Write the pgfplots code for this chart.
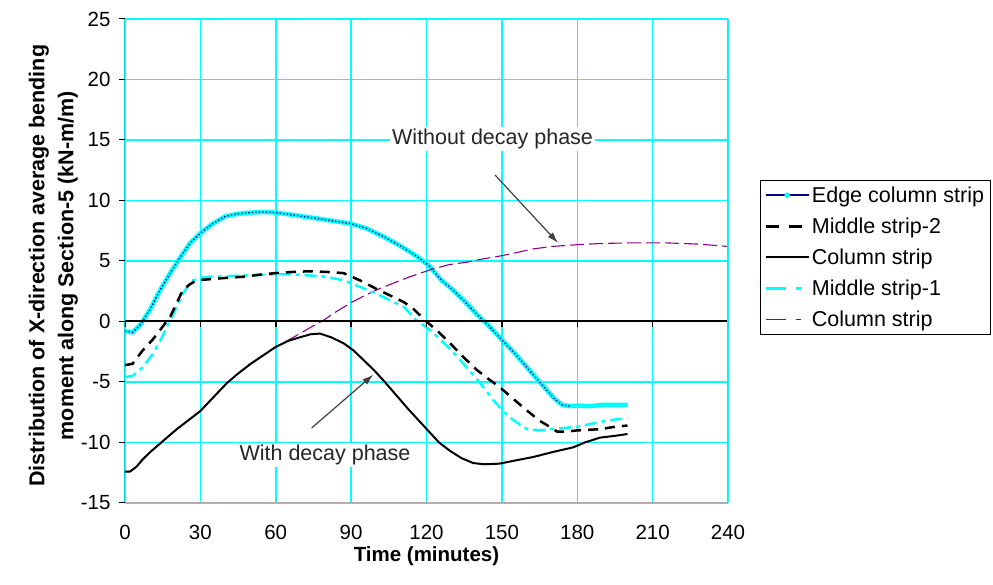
\documentclass[border=0pt]{standalone}
\usepackage{pgfplots}
\pgfplotsset{compat=1.18}
\usepackage{fontspec}
\setmainfont{Liberation Sans}
\usetikzlibrary{arrows.meta}
\definecolor{xcyan}{RGB}{0,255,255}
\definecolor{xnavy}{RGB}{0,0,128}
\definecolor{xpurple}{RGB}{140,0,140}
\definecolor{xgray}{RGB}{170,170,170}
\begin{document}
\begin{tikzpicture}
\useasboundingbox (-125pt,-82pt) rectangle (868pt,503pt);
\begin{axis}[
  scale only axis, width=603pt, height=484pt,
  xmin=0, xmax=240, ymin=-15, ymax=25,
  xtick={0,30,...,240}, ytick={-15,-10,...,25},
  grid=major, major grid style={xcyan, line width=1.5pt},
  axis line style={draw=none},
  tick align=outside, major tick length=6pt,
  xtick style={draw=none}, ytick style={black, line width=1pt},
  ytick pos=left, xtick pos=bottom,
  /pgf/number format/assume math mode=true,
  ticklabel style={font=\fontsize{20.5}{24}\selectfont},
  yticklabel style={xshift=-5pt},
  xticklabel style={yshift=-13pt},
  xlabel={Time (minutes)},
  xlabel style={font=\bfseries\fontsize{20.5}{24}\selectfont, at={(axis description cs:0.5,-0.11)}, anchor=center},
  ylabel={Distribution of X-direction average bending\\moment along Section-5 (kN-m/m)},
  ylabel style={font=\bfseries\fontsize{21.5}{29}\selectfont, align=center, at={(axis description cs:-0.119,0.49)}, anchor=center},
  legend image code/.code={\draw[mark repeat=2,mark phase=2,#1] plot coordinates {(0pt,0pt) (21.5pt,0pt) (43pt,0pt)};},
  legend style={at={(axis description cs:1.053,0.667)}, anchor=north west, draw=black, line width=1pt,
    font=\fontsize{21.5}{26}\selectfont, row sep=10pt, inner sep=4pt, legend cell align=left},
]
% Edge column strip
\addplot[xcyan, line width=4.5pt, forget plot] table {
0 -0.8
3 -0.9
6 -0.3
10 1.0
14 2.6
18 4.0
22 5.3
26 6.5
30 7.3
35 8.1
40 8.7
45 8.9
50 9.0
55 9.05
60 9.0
67 8.8
73.6 8.6
80 8.4
89.5 8.1
96 7.7
103 7.0
110 6.2
116 5.4
121 4.6
126 3.4
130 2.7
135 1.7
140 0.6
145 -0.4
149 -1.3
155 -2.6
160 -3.8
165 -5.0
168 -5.7
171 -6.4
174 -6.9
177 -7.0
180 -6.95
185 -7.0
190 -6.9
200 -6.9
};
\addplot[xnavy, line width=1.3pt, dash pattern=on 1.3pt off 2.2pt, forget plot] table {
0 -0.8
3 -0.9
6 -0.3
10 1.0
14 2.6
18 4.0
22 5.3
26 6.5
30 7.3
35 8.1
40 8.7
45 8.9
50 9.0
55 9.05
60 9.0
67 8.8
73.6 8.6
80 8.4
89.5 8.1
96 7.7
103 7.0
110 6.2
116 5.4
121 4.6
126 3.4
130 2.7
135 1.7
140 0.6
145 -0.4
149 -1.3
155 -2.6
160 -3.8
165 -5.0
168 -5.7
171 -6.4
174 -6.9
177 -7.0
};
% Purple column strip (without decay)
\addplot[xpurple, line width=1.1pt, dash pattern=on 14pt off 5pt, forget plot] table {
0 -12.4
2 -12.4
4.6 -12.0
10 -10.8
20.6 -8.9
30 -7.4
40.5 -5.1
50 -3.5
60 -2.1
65 -1.55
70 -0.95
75 -0.35
79 0.1
84 0.8
89.5 1.5
95 2.1
100 2.6
106 3.1
113.4 3.7
122.7 4.35
129 4.7
136 4.9
142 5.15
149 5.4
156 5.7
162.5 6.0
170 6.2
180 6.35
190 6.45
202 6.5
215 6.5
228 6.4
240 6.2
};
% Middle strip-1
\addplot[xcyan, line width=2.5pt, dash pattern=on 12pt off 5pt on 4pt off 5pt, forget plot] table {
0 -4.6
3 -4.5
7 -3.8
11 -2.7
14 -1.6
18 0.1
21 1.4
23 2.3
25 2.9
27 3.4
30 3.6
34 3.7
47 3.8
60 3.9
67 3.9
73.6 3.8
80 3.7
87 3.4
93 2.9
100 2.3
105 1.8
111 1.2
116 0.1
121.4 -0.7
125 -1.4
130 -2.4
136 -3.8
141 -5.0
146.6 -6.5
150 -7.3
153 -7.9
157 -8.5
160 -8.9
165 -9.0
169 -8.9
175 -8.8
180 -8.7
189 -8.3
195 -8.1
200 -8.0
};
% Middle strip-2
\addplot[black, line width=2.5pt, dash pattern=on 10pt off 7pt, forget plot] table {
0 -3.6
3 -3.5
7 -2.4
11 -1.5
14 -0.7
18 0.4
21 1.7
23 2.6
26 3.1
28.5 3.4
34 3.5
40 3.6
47 3.7
55 3.9
60 4.0
67 4.1
73.6 4.15
80 4.1
87 4.0
93.5 3.4
100 2.7
105 2.2
111 1.6
115 1.0
118 0.4
120 0.0
125 -0.9
129.4 -1.8
135 -3.0
140 -4.0
145 -4.8
149 -5.4
154 -6.3
158.5 -7.1
162 -7.7
165 -8.2
169 -8.7
172 -9.1
176 -9.1
180 -9.0
189 -8.9
195 -8.7
200 -8.6
};
% Column strip (with decay)
\addplot[black, line width=2pt, forget plot] table {
0 -12.4
2 -12.4
4.6 -12.0
7 -11.4
10 -10.8
15 -9.9
20.6 -8.9
25 -8.2
30 -7.4
35 -6.3
40.5 -5.1
45 -4.3
50 -3.5
55 -2.8
60 -2.1
65 -1.6
69.7 -1.3
74 -1.05
77.6 -1.0
82 -1.3
87 -1.8
91 -2.4
95 -3.2
99 -4.0
103 -4.9
108 -6.1
113 -7.3
117 -8.2
121 -9.1
125 -10.0
129.4 -10.7
134 -11.3
138.6 -11.7
143 -11.8
149 -11.75
155 -11.5
162.5 -11.2
170 -10.8
178.4 -10.4
183 -10.0
189 -9.6
195 -9.45
200 -9.3
};
% axes decorations
\draw[black, line width=2pt] (axis cs:0,0) -- (axis cs:240,0);
\pgfplotsinvokeforeach{0,30,60,90,120,150,180,210,240}{\draw[black, line width=1.5pt] (axis cs:#1,0) -- ([yshift=-6pt]axis cs:#1,0);}
\draw[xgray, line width=1.5pt] (rel axis cs:0,0) -- (rel axis cs:1,0) -- (rel axis cs:1,1);
\draw[black, line width=1pt] (rel axis cs:0,0) -- (rel axis cs:0,1);
% annotations
\node[fill=white, inner sep=2pt, font=\fontsize{21.5}{25}\selectfont, text=black!85] at (axis cs:146.3,15.1) {Without decay phase};
\node[fill=white, inner sep=2pt, font=\fontsize{21.5}{25}\selectfont, text=black!85] at (axis cs:79.6,-11.0) {With decay phase};
\draw[-{Latex[length=11pt,width=7pt]}, line width=1.2pt, black!75] (axis cs:147.3,12.1) -- (axis cs:172.3,6.5);
\draw[-{Latex[length=11pt,width=7pt]}, line width=1.2pt, black!75] (axis cs:74.3,-8.8) -- (axis cs:98.8,-4.4);
% legend
\addlegendimage{xnavy, line width=1.5pt, mark=*, mark size=2pt, mark options={fill=xcyan, draw=xcyan}}
\addlegendentry{Edge column strip}
\addlegendimage{black, line width=2.5pt, dash pattern=on 13pt off 10pt}
\addlegendentry{Middle strip-2}
\addlegendimage{black, line width=2pt}
\addlegendentry{Column strip}
\addlegendimage{xcyan, line width=2.5pt, dash pattern=on 20pt off 10pt on 5pt off 10pt}
\addlegendentry{Middle strip-1}
\addlegendimage{xpurple, line width=1.1pt, dash pattern=on 20pt off 10pt on 5pt off 10pt}
\addlegendentry{Column strip}
\end{axis}
\end{tikzpicture}
\end{document}
